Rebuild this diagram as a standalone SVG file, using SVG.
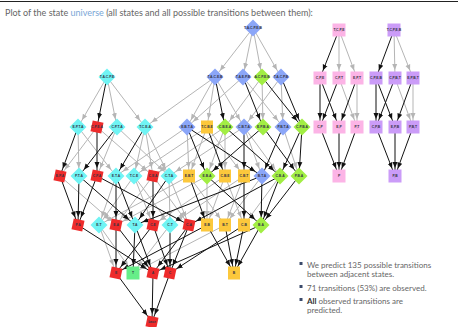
<svg xmlns="http://www.w3.org/2000/svg" width="458" height="327" viewBox="0 0 458 327">
<style>
.t{font-family:Lato,"Liberation Sans",sans-serif;font-size:8px;fill:#666}
.tt{font-family:Lato,"Liberation Sans",sans-serif;font-size:9px;fill:#666}
.lb{font-family:"Liberation Sans",Arial,sans-serif;font-size:3.4px;font-weight:bold;fill:#334;text-anchor:middle;dominant-baseline:central}
.g line{stroke:#b5b5b5;stroke-width:1;marker-end:url(#ag)}
.k line{stroke:#111;stroke-width:1;marker-end:url(#ak)}
.bl{fill:#8ba6f8}.cy{fill:#70f4f4}.gr{fill:#a2ee44}.ye{fill:#fcc83c}.rd{fill:#ee2b2b}.mt{fill:#66ee88}.pk{fill:#fcb4e6}.pu{fill:#cb9cf8}
</style>
<defs>
<marker id="ag" markerUnits="userSpaceOnUse" markerWidth="14" markerHeight="6" refX="14" refY="3" orient="auto"><path d="M0,0.5 L6,3 L0,5.5 z" fill="#b5b5b5"/></marker>
<marker id="ak" markerUnits="userSpaceOnUse" markerWidth="14" markerHeight="6" refX="14" refY="3" orient="auto"><path d="M0,0.5 L6,3 L0,5.5 z" fill="#111"/></marker>
<path id="dm" d="M0,-8.5 L8.5,0 L0,8.5 L-8.5,0 z"/>
<rect id="rs" x="-5.5" y="-5.5" width="11" height="11"/>
<rect id="ys" x="-6" y="-6.5" width="12" height="13"/>
<rect id="ps" x="-6.5" y="-6.5" width="13" height="13"/>
</defs>
<line x1="0" y1="1.5" x2="458" y2="1.5" stroke="#222" stroke-width="1.2"/>
<text class="tt" x="5" y="16">Plot of the state <tspan fill="#7aa6d6">universe</tspan> (all states and all possible transitions between them):</text>

<g id="connectors">
<g class="g">
<line x1="253" y1="28" x2="215" y2="77"/><line x1="253" y1="28" x2="243" y2="77"/><line x1="253" y1="28" x2="262" y2="77"/><line x1="253" y1="28" x2="281" y2="77"/>
<line x1="107" y1="77" x2="78" y2="127"/><line x1="107" y1="77" x2="117" y2="127"/><line x1="107" y1="77" x2="145" y2="127"/>
<line x1="215" y1="77" x2="145" y2="127"/><line x1="215" y1="77" x2="187" y2="127"/><line x1="215" y1="77" x2="207" y2="127"/><line x1="215" y1="77" x2="244" y2="127"/>
<line x1="243" y1="77" x2="187" y2="127"/><line x1="243" y1="77" x2="283" y2="127"/>
<line x1="262" y1="77" x2="225" y2="127"/><line x1="262" y1="77" x2="263" y2="127"/>
<line x1="281" y1="77" x2="244" y2="127"/><line x1="281" y1="77" x2="283" y2="127"/>
<line x1="78" y1="127" x2="79" y2="176"/><line x1="78" y1="127" x2="116" y2="176"/>
<line x1="97" y1="127" x2="60" y2="176"/><line x1="97" y1="127" x2="153" y2="176"/>
<line x1="117" y1="127" x2="97" y2="176"/><line x1="117" y1="127" x2="169" y2="176"/>
<line x1="145" y1="127" x2="134" y2="176"/><line x1="145" y1="127" x2="153" y2="176"/><line x1="145" y1="127" x2="169" y2="176"/>
<line x1="187" y1="127" x2="189" y2="176"/><line x1="187" y1="127" x2="116" y2="176"/>
<line x1="207" y1="127" x2="189" y2="176"/><line x1="207" y1="127" x2="244" y2="176"/><line x1="207" y1="127" x2="134" y2="176"/>
<line x1="225" y1="127" x2="207" y2="176"/><line x1="225" y1="127" x2="225" y2="176"/><line x1="225" y1="127" x2="153" y2="176"/>
<line x1="244" y1="127" x2="262" y2="176"/><line x1="244" y1="127" x2="280" y2="176"/><line x1="244" y1="127" x2="169" y2="176"/>
<line x1="283" y1="127" x2="299" y2="176"/>
<line x1="60" y1="176" x2="116" y2="225"/><line x1="116" y1="176" x2="99" y2="225"/>
<line x1="134" y1="176" x2="99" y2="225"/><line x1="134" y1="176" x2="153" y2="225"/><line x1="134" y1="176" x2="170" y2="225"/>
<line x1="153" y1="176" x2="116" y2="225"/><line x1="153" y1="176" x2="189" y2="225"/>
<line x1="169" y1="176" x2="170" y2="225"/><line x1="169" y1="176" x2="189" y2="225"/>
<line x1="189" y1="176" x2="225" y2="225"/><line x1="189" y1="176" x2="99" y2="225"/>
<line x1="207" y1="176" x2="207" y2="225"/><line x1="207" y1="176" x2="116" y2="225"/>
<line x1="225" y1="176" x2="244" y2="225"/><line x1="225" y1="176" x2="207" y2="225"/><line x1="225" y1="176" x2="153" y2="225"/>
<line x1="244" y1="176" x2="225" y2="225"/><line x1="244" y1="176" x2="170" y2="225"/>
<line x1="262" y1="176" x2="225" y2="225"/><line x1="280" y1="176" x2="244" y2="225"/>
<line x1="99" y1="225" x2="116" y2="273"/><line x1="99" y1="225" x2="133" y2="273"/><line x1="170" y1="225" x2="133" y2="273"/><line x1="225" y1="225" x2="133" y2="273"/>
<line x1="339" y1="30" x2="339" y2="78"/><line x1="339" y1="30" x2="357" y2="78"/>
<line x1="339" y1="78" x2="357" y2="127"/><line x1="357" y1="78" x2="357" y2="127"/>
<line x1="394" y1="30" x2="395" y2="78"/><line x1="394" y1="30" x2="413" y2="78"/>
<line x1="395" y1="78" x2="413" y2="127"/><line x1="413" y1="78" x2="413" y2="127"/>
</g>
<g class="k">
<line x1="107" y1="77" x2="97" y2="127"/><line x1="215" y1="77" x2="225" y2="127"/><line x1="243" y1="77" x2="263" y2="127"/><line x1="262" y1="77" x2="302" y2="127"/><line x1="281" y1="77" x2="302" y2="127"/>
<line x1="78" y1="127" x2="60" y2="176"/><line x1="97" y1="127" x2="97" y2="176"/><line x1="117" y1="127" x2="79" y2="176"/><line x1="145" y1="127" x2="116" y2="176"/>
<line x1="187" y1="127" x2="207" y2="176"/><line x1="187" y1="127" x2="262" y2="176"/><line x1="207" y1="127" x2="225" y2="176"/><line x1="225" y1="127" x2="280" y2="176"/>
<line x1="244" y1="127" x2="244" y2="176"/><line x1="263" y1="127" x2="299" y2="176"/><line x1="263" y1="127" x2="207" y2="176"/><line x1="283" y1="127" x2="262" y2="176"/>
<line x1="302" y1="127" x2="299" y2="176"/><line x1="302" y1="127" x2="280" y2="176"/>
<line x1="60" y1="176" x2="78" y2="225"/><line x1="79" y1="176" x2="78" y2="225"/><line x1="79" y1="176" x2="135" y2="225"/><line x1="97" y1="176" x2="78" y2="225"/><line x1="97" y1="176" x2="189" y2="225"/>
<line x1="116" y1="176" x2="116" y2="225"/><line x1="116" y1="176" x2="135" y2="225"/><line x1="153" y1="176" x2="153" y2="225"/><line x1="169" y1="176" x2="135" y2="225"/>
<line x1="189" y1="176" x2="207" y2="225"/><line x1="207" y1="176" x2="261" y2="225"/><line x1="244" y1="176" x2="244" y2="225"/><line x1="262" y1="176" x2="261" y2="225"/>
<line x1="262" y1="176" x2="135" y2="225"/><line x1="280" y1="176" x2="261" y2="225"/><line x1="280" y1="176" x2="189" y2="225"/><line x1="299" y1="176" x2="261" y2="225"/>
<line x1="78" y1="225" x2="153" y2="273"/><line x1="116" y1="225" x2="116" y2="273"/><line x1="116" y1="225" x2="153" y2="273"/><line x1="135" y1="225" x2="133" y2="273"/>
<line x1="135" y1="225" x2="153" y2="273"/><line x1="153" y1="225" x2="170" y2="273"/><line x1="153" y1="225" x2="116" y2="273"/><line x1="170" y1="225" x2="170" y2="273"/>
<line x1="189" y1="225" x2="170" y2="273"/><line x1="189" y1="225" x2="153" y2="273"/><line x1="207" y1="225" x2="116" y2="273"/><line x1="207" y1="225" x2="234" y2="273"/>
<line x1="225" y1="225" x2="234" y2="273"/><line x1="244" y1="225" x2="170" y2="273"/><line x1="244" y1="225" x2="234" y2="273"/><line x1="261" y1="225" x2="153" y2="273"/><line x1="261" y1="225" x2="234" y2="273"/>
<line x1="116" y1="273" x2="152" y2="322"/><line x1="153" y1="273" x2="152" y2="322"/><line x1="170" y1="273" x2="152" y2="322"/>
<line x1="339" y1="30" x2="320" y2="78"/><line x1="320" y1="78" x2="320" y2="127"/><line x1="320" y1="78" x2="339" y2="127"/><line x1="339" y1="78" x2="320" y2="127"/><line x1="357" y1="78" x2="339" y2="127"/>
<line x1="320" y1="127" x2="339" y2="176"/><line x1="339" y1="127" x2="339" y2="176"/><line x1="357" y1="127" x2="339" y2="176"/>
<line x1="394" y1="30" x2="376" y2="78"/><line x1="376" y1="78" x2="376" y2="127"/><line x1="376" y1="78" x2="395" y2="127"/><line x1="395" y1="78" x2="376" y2="127"/><line x1="413" y1="78" x2="395" y2="127"/>
<line x1="376" y1="127" x2="395" y2="176"/><line x1="395" y1="127" x2="395" y2="176"/><line x1="413" y1="127" x2="395" y2="176"/>
</g>
</g>

<g id="n0" transform="translate(253,28)"><use href="#dm" class="bl"/><text class="lb">T.A.C.P.E.B</text></g>
<g id="n1" transform="translate(107,77)"><use href="#dm" class="cy"/><text class="lb">T.A.C.P.E</text></g>
<g id="n2" transform="translate(215,77)"><use href="#dm" class="bl"/><text class="lb">T.A.C.E.B</text></g>
<g id="n3" transform="translate(243,77)"><use href="#dm" class="bl"/><text class="lb">T.A.E.P.B</text></g>
<g id="n4" transform="translate(262,77)"><use href="#dm" class="gr"/><text class="lb">A.C.P.E.B</text></g>
<g id="n5" transform="translate(281,77)"><use href="#dm" class="bl"/><text class="lb">T.A.C.P.B</text></g>
<g id="na" transform="translate(78,127)"><use href="#dm" class="cy"/><text class="lb">E.P.T.A</text></g>
<g id="nb" transform="translate(97,127)"><use href="#rs" class="rd" transform="rotate(12)"/><text class="lb">C.P.E.A</text></g>
<g id="nc" transform="translate(117,127)"><use href="#dm" class="cy"/><text class="lb">C.P.T.A</text></g>
<g id="nd" transform="translate(145,127)"><use href="#dm" class="cy"/><text class="lb">T.C.E.A</text></g>
<g id="ne" transform="translate(187,127)"><use href="#dm" class="bl"/><text class="lb">E.B.T.A</text></g>
<g id="nf" transform="translate(207,127)"><use href="#ys" class="ye"/><text class="lb">T.C.B.E</text></g>
<g id="ng" transform="translate(225,127)"><use href="#dm" class="gr"/><text class="lb">C.B.E.A</text></g>
<g id="nh" transform="translate(244,127)"><use href="#dm" class="bl"/><text class="lb">C.B.T.A</text></g>
<g id="ni" transform="translate(263,127)"><use href="#dm" class="gr"/><text class="lb">E.P.B.A</text></g>
<g id="nj" transform="translate(283,127)"><use href="#dm" class="bl"/><text class="lb">P.B.T.A</text></g>
<g id="nk" transform="translate(302,127)"><use href="#dm" class="gr"/><text class="lb">C.P.B.A</text></g>
<g id="epa" transform="translate(60,176)"><use href="#rs" class="rd" transform="rotate(12)"/><text class="lb">E.P.A</text></g>
<g id="pta" transform="translate(79,176)"><use href="#dm" class="cy"/><text class="lb">P.T.A</text></g>
<g id="cpa" transform="translate(97,176)"><use href="#rs" class="rd" transform="rotate(12)"/><text class="lb">C.P.A</text></g>
<g id="eta" transform="translate(116,176)"><use href="#dm" class="cy"/><text class="lb">E.T.A</text></g>
<g id="tce" transform="translate(134,176)"><use href="#dm" class="cy"/><text class="lb">T.C.E</text></g>
<g id="cea" transform="translate(153,176)"><use href="#rs" class="rd" transform="rotate(12)"/><text class="lb">C.E.A</text></g>
<g id="cta" transform="translate(169,176)"><use href="#dm" class="cy"/><text class="lb">C.T.A</text></g>
<g id="ebt" transform="translate(189,176)"><use href="#ys" class="ye"/><text class="lb">E.B.T</text></g>
<g id="eba" transform="translate(207,176)"><use href="#dm" class="gr"/><text class="lb">E.B.A</text></g>
<g id="cbe" transform="translate(225,176)"><use href="#ys" class="ye"/><text class="lb">C.B.E</text></g>
<g id="cbt" transform="translate(244,176)"><use href="#ys" class="ye"/><text class="lb">C.B.T</text></g>
<g id="bta" transform="translate(262,176)"><use href="#dm" class="bl"/><text class="lb">B.T.A</text></g>
<g id="cba" transform="translate(280,176)"><use href="#dm" class="gr"/><text class="lb">C.B.A</text></g>
<g id="pba" transform="translate(299,176)"><use href="#dm" class="gr"/><text class="lb">P.B.A</text></g>
<g id="pa" transform="translate(78,225)"><use href="#rs" class="rd" transform="rotate(12)"/><text class="lb">P.A</text></g>
<g id="et" transform="translate(99,225)"><use href="#dm" class="cy"/><text class="lb">E.T</text></g>
<g id="ea" transform="translate(116,225)"><use href="#rs" class="rd" transform="rotate(12)"/><text class="lb">E.A</text></g>
<g id="ta" transform="translate(135,225)"><use href="#dm" class="cy"/><text class="lb">T.A</text></g>
<g id="ce" transform="translate(153,225)"><use href="#rs" class="rd" transform="rotate(12)"/><text class="lb">C.E</text></g>
<g id="ct" transform="translate(170,225)"><use href="#dm" class="cy"/><text class="lb">C.T</text></g>
<g id="ca" transform="translate(189,225)"><use href="#rs" class="rd" transform="rotate(12)"/><text class="lb">C.A</text></g>
<g id="eb" transform="translate(207,225)"><use href="#ys" class="ye"/><text class="lb">E.B</text></g>
<g id="bt" transform="translate(225,225)"><use href="#ys" class="ye"/><text class="lb">B.T</text></g>
<g id="cb" transform="translate(244,225)"><use href="#ys" class="ye"/><text class="lb">C.B</text></g>
<g id="ba" transform="translate(261,225)"><use href="#dm" class="gr"/><text class="lb">B.A</text></g>
<g id="se" transform="translate(116,273)"><use href="#rs" class="rd" transform="rotate(12)"/><text class="lb">E</text></g>
<g id="st" transform="translate(133,273)"><use href="#ps" class="mt"/><text class="lb">T</text></g>
<g id="sa" transform="translate(153,273)"><use href="#rs" class="rd" transform="rotate(12)"/><text class="lb">A</text></g>
<g id="sc" transform="translate(170,273)"><use href="#rs" class="rd" transform="rotate(12)"/><text class="lb">C</text></g>
<g id="sb" transform="translate(234,273)"><use href="#ys" class="ye"/><text class="lb">B</text></g>
<g id="base" transform="translate(152,322)"><use href="#rs" class="rd" transform="rotate(12)"/><text class="lb">base</text></g>
<g id="p0" transform="translate(339,30)"><use href="#ps" class="pk"/><text class="lb">T,C,P,E</text></g>
<g id="p1" transform="translate(320,78)"><use href="#ps" class="pk"/><text class="lb">C,P,E</text></g>
<g id="p2" transform="translate(339,78)"><use href="#ps" class="pk"/><text class="lb">C,P,T</text></g>
<g id="p3" transform="translate(357,78)"><use href="#ps" class="pk"/><text class="lb">E,P,T</text></g>
<g id="p4" transform="translate(320,127)"><use href="#ps" class="pk"/><text class="lb">C,P</text></g>
<g id="p5" transform="translate(339,127)"><use href="#ps" class="pk"/><text class="lb">E,P</text></g>
<g id="p6" transform="translate(357,127)"><use href="#ps" class="pk"/><text class="lb">P,T</text></g>
<g id="p7" transform="translate(339,176)"><use href="#ps" class="pk"/><text class="lb">P</text></g>
<g id="q0" transform="translate(394,30)"><use href="#ps" class="pu"/><text class="lb">T,C,P,E,B</text></g>
<g id="q1" transform="translate(376,78)"><use href="#ps" class="pu"/><text class="lb">C,P,E,B</text></g>
<g id="q2" transform="translate(395,78)"><use href="#ps" class="pu"/><text class="lb">C,P,B,T</text></g>
<g id="q3" transform="translate(413,78)"><use href="#ps" class="pu"/><text class="lb">E,P,B,T</text></g>
<g id="q4" transform="translate(376,127)"><use href="#ps" class="pu"/><text class="lb">C,P,B</text></g>
<g id="q5" transform="translate(395,127)"><use href="#ps" class="pu"/><text class="lb">E,P,B</text></g>
<g id="q6" transform="translate(413,127)"><use href="#ps" class="pu"/><text class="lb">P,B,T</text></g>
<g id="q7" transform="translate(395,176)"><use href="#ps" class="pu"/><text class="lb">P,B</text></g>

<g id="legend">
<rect x="299.5" y="262" width="3" height="3" fill="#3b4a6b"/>
<text class="t" x="307" y="267.8">We predict 135 possible transitions</text>
<text class="t" x="307" y="277.3">between adjacent states.</text>
<rect x="299.5" y="285" width="3" height="3" fill="#3b4a6b"/>
<text class="t" x="307" y="290.8">71 transitions (53%) are observed.</text>
<rect x="299.5" y="298" width="3" height="3" fill="#3b4a6b"/>
<text class="t" x="307" y="303.8"><tspan font-weight="bold" fill="#333">All</tspan> observed transitions are</text>
<text class="t" x="307" y="313.3">predicted.</text>
</g>
</svg>
